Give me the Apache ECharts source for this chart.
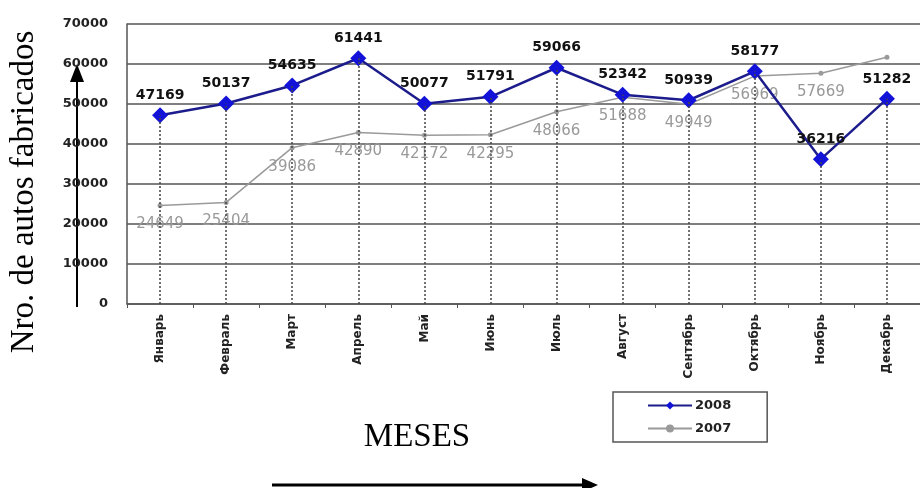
<!DOCTYPE html>
<html>
<head>
<meta charset="utf-8">
<script src="https://cdn.jsdelivr.net/npm/echarts@6/dist/echarts.min.js"></script>
<style>
  html, body { margin: 0; padding: 0; background: #fff; }
  #chart { width: 920px; height: 488px; }
</style>
</head>
<body>
<div id="chart"></div>
<script>
// месяцы и выпуск по годам
var months = ["Январь", "Февраль", "Март", "Апрель", "Май", "Июнь", "Июль", "Август", "Сентябрь", "Октябрь", "Ноябрь", "Декабрь"];
var data2008 = [47169, 50137, 54635, 61441, 50077, 51791, 59066, 52342, 50939, 58177, 36216, 51282];
var data2007 = [24649, 25404, 39086, 42890, 42172, 42295, 48066, 51688, 49949, 56969, 57669, 61700];
var yTicks = [0, 10000, 20000, 30000, 40000, 50000, 60000, 70000];

var chart = echarts.init(document.getElementById("chart"));

// пунктир от точки 2008 до оси
var dropLines = data2008.map(function (v, i) {
  return [{ coord: [i, 0] }, { coord: [i, v] }];
});

chart.setOption({
  animation: false,
  textStyle: { fontFamily: "DejaVu Sans" },
  grid: { left: 127, top: 24, width: 803, bottom: 184 },
  legend: {
    data: ["2008", "2007"],
    orient: "vertical",
    left: 613,
    top: 392,
    padding: [7, 36, 7, 34],
    itemGap: 10,
    itemWidth: 44,
    itemHeight: 10,
    borderColor: "#555",
    borderWidth: 1.5,
    textStyle: { fontWeight: "bold", fontSize: 13, color: "#222", padding: [0, 0, 0, -2] }
  },
  xAxis: {
    type: "category",
    data: months,
    boundaryGap: true,
    axisLine: { lineStyle: { color: "#555", width: 1.5 } },
    axisTick: { show: true, length: 4, lineStyle: { color: "#555" } },
    axisLabel: { rotate: 90, fontWeight: "bold", fontSize: 12, color: "#222", margin: 10, interval: 0 },
    splitLine: { show: false }
  },
  yAxis: {
    type: "value",
    min: yTicks[0],
    max: yTicks[yTicks.length - 1],
    interval: 10000,
    axisLine: { show: true, lineStyle: { color: "#555", width: 1.5 } },
    axisTick: { show: false },
    axisLabel: { fontWeight: "bold", fontSize: 13, color: "#222", margin: 19, formatter: function (v) { return String(v); } },
    splitLine: { lineStyle: { color: "#555", width: 1.5 } }
  },
  series: [
    {
      name: "2007",
      type: "line",
      data: data2007,
      symbol: "circle",
      symbolSize: 5,
      itemStyle: { color: "#9a9a9a" },
      lineStyle: { color: "#9a9a9a", width: 1.5 },
      label: {
        show: true,
        position: "bottom",
        distance: 9,
        color: "#999",
        fontSize: 15,
        formatter: function (p) { return p.dataIndex === 11 ? "" : String(p.value); }
      },
      z: 2
    },
    {
      name: "2008",
      type: "line",
      data: data2008,
      symbol: "diamond",
      symbolSize: 16,
      itemStyle: { color: "#1212d8" },
      lineStyle: { color: "#1c1c8c", width: 2.5 },
      label: {
        show: true,
        position: "top",
        distance: 5,
        color: "#111",
        fontWeight: "bold",
        fontSize: 14,
        formatter: function (p) { return String(p.value); }
      },
      markLine: {
        silent: true,
        symbol: "none",
        label: { show: false },
        lineStyle: { color: "#444", type: [2, 2], width: 1.5 },
        data: dropLines
      },
      z: 3
    }
  ],
  graphic: [
    {
      type: "text",
      x: 24, y: 192,
      rotation: Math.PI / 2,
      style: {
        text: "Nro. de autos fabricados",
        font: "33px 'Liberation Serif'",
        fill: "#000",
        align: "center",
        verticalAlign: "middle"
      }
    },
    { type: "line", shape: { x1: 77, y1: 307, x2: 77, y2: 78 }, style: { stroke: "#000", lineWidth: 2 } },
    { type: "polygon", shape: { points: [[77, 64], [70, 82], [84, 82]] }, style: { fill: "#000" } },
    {
      type: "text",
      x: 417, y: 437,
      style: {
        text: "MESES",
        font: "33px 'Liberation Serif'",
        fill: "#000",
        align: "center",
        verticalAlign: "middle"
      }
    },
    { type: "line", shape: { x1: 272, y1: 485, x2: 585, y2: 485 }, style: { stroke: "#000", lineWidth: 3 } },
    { type: "polygon", shape: { points: [[598, 485], [582, 478], [582, 492]] }, style: { fill: "#000" } }
  ]
});
</script>
</body>
</html>
